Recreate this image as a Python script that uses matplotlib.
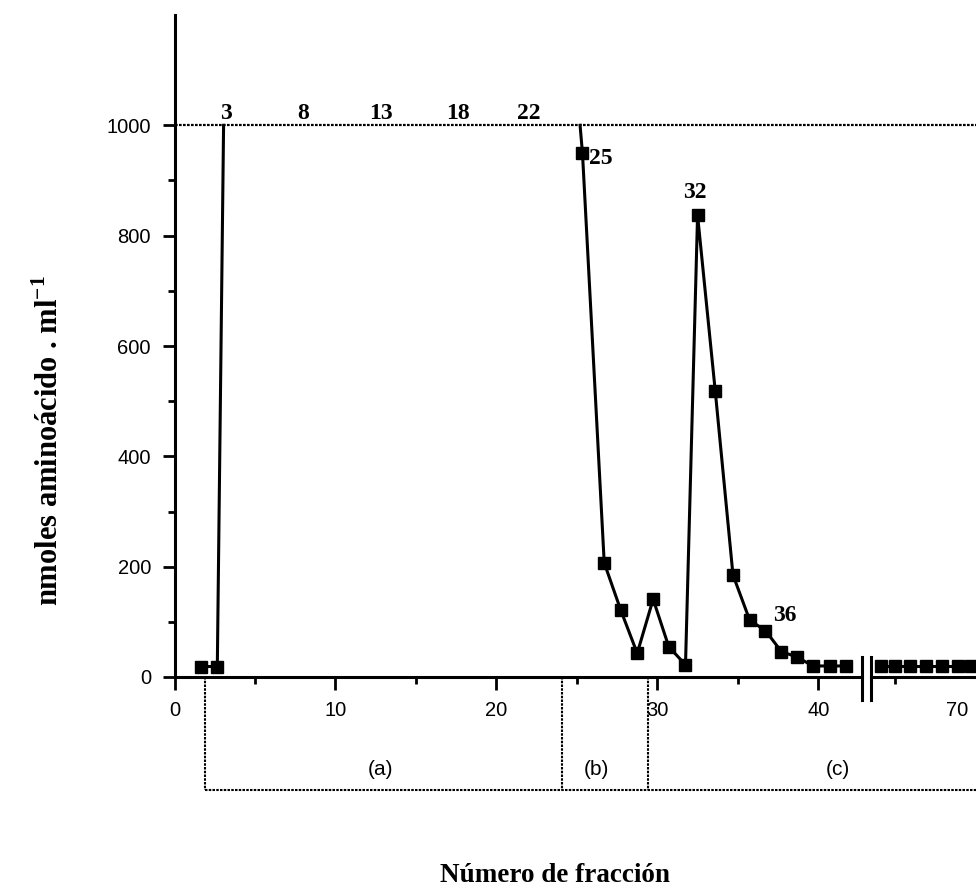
import numpy as np
import matplotlib.pyplot as plt

plt.rcParams['font.family'] = ['Liberation Sans', 'DejaVu Sans']
plt.rcParams['mathtext.fontset'] = 'custom'
plt.rcParams['mathtext.rm'] = 'Liberation Serif'
plt.rcParams['mathtext.bf'] = 'Liberation Serif:bold'

# posiciones de las fracciones (eje roto) y nmoles aminoacido / ml
# valores fuera de escala (>1000) quedan recortados en 1000
frac_x = [1.63, 2.66, 3.05, None, 25.2, 25.35, 26.7, 27.73, 28.75, 29.74, 30.71,
          31.75, 32.5, 33.6, 34.7, 35.74, 36.72, 37.71, 38.7, 39.66, 40.7, 41.75]
frac_y = [19, 19, 1000, None, 1000, 949, 207, 121, 43, 141, 55,
          22, 837, 518, 185, 103, 84, 46, 36, 20, 20, 20]

# tramo despues del corte (fracciones ~65-71)
tail_x = [43.9, 44.75, 45.7, 46.7, 47.7, 48.7, 49.5]
tail_y = [20, 20, 20, 20, 20, 20, 20]

# fracciones fuera de escala marcadas sobre la linea de 1000
off_labels = ['3', '8', '13', '18', '22']
off_x = [3.2, 8.0, 12.8, 17.6, 22.0]

# tramos (a), (b), (c)
bracket_x = [1.88, 24.1, 29.4]
bracket_names = ['(a)', '(b)', '(c)']
bracket_name_x = [12.8, 26.2, 41.2]

xbreak = (42.7, 43.25)
xmax = 49.8

W, H = 976, 891
fig = plt.figure(figsize=(W / 100, H / 100), dpi=100)
ax = fig.add_axes([174.5 / W, 214 / H, (W - 174.5) / W, (677 - 15) / H])
ax.set_xlim(0, xmax)
ax.set_ylim(0, 1200)

serif_b = dict(family='Liberation Serif', fontweight='bold')
dots = (0, (1.2, 0.6))

# linea de 1000 (fuera de escala)
ax.plot([0, xmax], [1000, 1000], color='k', lw=1.6, ls=dots, zorder=2)

x = np.array([np.nan if v is None else v for v in frac_x], dtype=float)
y = np.array([np.nan if v is None else v for v in frac_y], dtype=float)
ax.plot(x, y, color='k', lw=2.2, zorder=3)
on = y < 1000
ax.plot(x[on], y[on], ls='none', marker='s', ms=9.3, color='k', zorder=4)
ax.plot(tail_x, tail_y, color='k', lw=2.2, marker='s', ms=9.3, zorder=4)

for lab, xx in zip(off_labels, off_x):
    ax.text(xx, 1003, lab, ha='center', va='bottom', fontsize=17, **serif_b)
ax.text(25.75, 940, '25', ha='left', va='center', fontsize=17, **serif_b)
ax.text(32.3, 860, '32', ha='center', va='bottom', fontsize=17, **serif_b)
ax.text(37.2, 112, '36', ha='left', va='center', fontsize=17, **serif_b)

# ejes
for s in ['top', 'right', 'bottom']:
    ax.spines[s].set_visible(False)
ax.spines['left'].set_linewidth(2.2)
ax.plot([0, xbreak[0]], [0, 0], color='k', lw=2.2, clip_on=False, zorder=5)
ax.plot([xbreak[1], xmax], [0, 0], color='k', lw=2.2, clip_on=False, zorder=5)
for xb in xbreak:
    ax.plot([xb, xb], [-42, 37], color='k', lw=2.2, clip_on=False, zorder=5)

ax.set_yticks([0, 200, 400, 600, 800, 1000])
ax.set_yticks([100, 300, 500, 700, 900], minor=True)
ax.set_xticks([0, 10, 20, 30, 40, 48.6], ['0', '10', '20', '30', '40', '70'])
ax.set_xticks([5, 15, 25, 35, 44.75], minor=True)
ax.xaxis.get_major_ticks()[-1].tick1line.set_visible(False)
ax.tick_params(which='major', length=9, width=2, labelsize=14.5, pad=8)
ax.tick_params(which='minor', length=5, width=2)

# corchetes de los tramos
ybr = -205
for xb in bracket_x:
    ax.plot([xb, xb], [0, ybr], color='k', lw=1.5, ls=dots, clip_on=False)
ax.plot([bracket_x[0], xmax], [ybr, ybr], color='k', lw=1.5, ls=dots, clip_on=False)
for name, xn in zip(bracket_names, bracket_name_x):
    ax.text(xn, ybr + 38, name, ha='center', va='center', fontsize=15)

fig.text(50 / W, 1 - 441 / H, r'nmoles aminoácido . ml$^{\mathbf{-1}}$',
         rotation=90, ha='center', va='center', fontsize=22, **serif_b)
fig.text(555 / W, 1 - 875 / H, 'Número de fracción', ha='center', va='center',
         fontsize=19.5, **serif_b)

fig.savefig('out.png', dpi=100)
